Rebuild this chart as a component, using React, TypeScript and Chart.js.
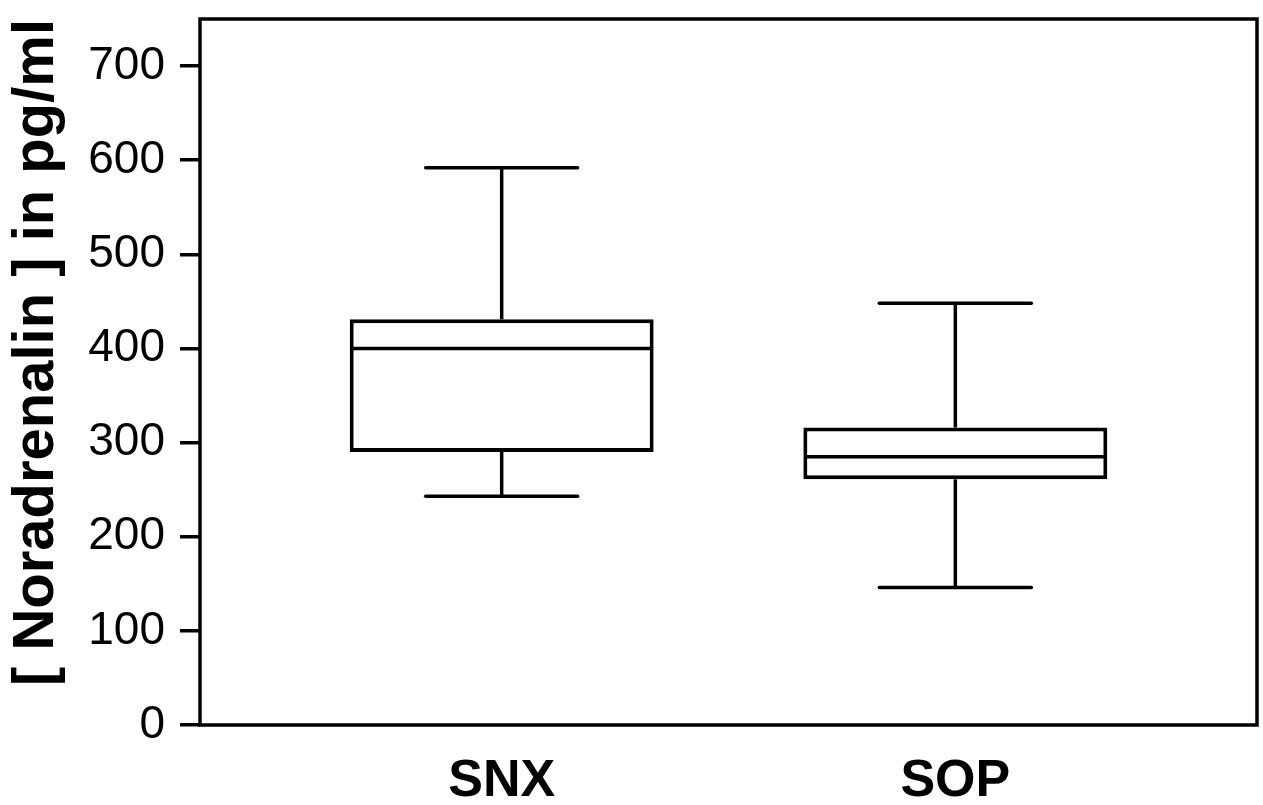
import React, { useEffect, useRef } from "react";
import { Chart, registerables } from "chart.js";

Chart.register(...registerables);

const categories = ["SNX", "SOP"];
const positions = [1, 2];
const whiskerLow = [243, 146];
const quartile1 = [290, 261];
const medians = [400, 285];
const quartile3 = [431, 316];
const whiskerHigh = [592, 448];
const yTickValues = [0, 100, 200, 300, 400, 500, 600, 700];

const BOX_HALF = 0.3325;
const CAP_HALF = 0.1675;
const LINE_W = 3.5;

const boxPlotPlugin = {
  id: "boxPlotExtras",
  afterDatasetsDraw(chart: any) {
    const { ctx, scales, chartArea } = chart;
    const x = scales.x;
    const y = scales.y;
    ctx.save();
    ctx.strokeStyle = "#000";
    ctx.lineWidth = LINE_W;
    ctx.lineCap = "butt";
    positions.forEach((p, i) => {
      const cx = x.getPixelForValue(p);
      ctx.beginPath();
      ctx.moveTo(x.getPixelForValue(p - BOX_HALF), y.getPixelForValue(medians[i]));
      ctx.lineTo(x.getPixelForValue(p + BOX_HALF), y.getPixelForValue(medians[i]));
      ctx.stroke();
      ctx.beginPath();
      ctx.moveTo(cx, y.getPixelForValue(quartile3[i]));
      ctx.lineTo(cx, y.getPixelForValue(whiskerHigh[i]));
      ctx.stroke();
      ctx.beginPath();
      ctx.moveTo(cx, y.getPixelForValue(quartile1[i]));
      ctx.lineTo(cx, y.getPixelForValue(whiskerLow[i]));
      ctx.stroke();
      ctx.lineCap = "round";
      [whiskerHigh[i], whiskerLow[i]].forEach((v) => {
        ctx.beginPath();
        ctx.moveTo(x.getPixelForValue(p - CAP_HALF), y.getPixelForValue(v));
        ctx.lineTo(x.getPixelForValue(p + CAP_HALF), y.getPixelForValue(v));
        ctx.stroke();
      });
      ctx.lineCap = "butt";
    });
    ctx.lineWidth = LINE_W;
    ctx.strokeRect(
      chartArea.left,
      chartArea.top,
      chartArea.right - chartArea.left,
      chartArea.bottom - chartArea.top
    );
    ctx.restore();
  },
};

export default function App() {
  const canvasRef = useRef<HTMLCanvasElement | null>(null);

  useEffect(() => {
    if (!canvasRef.current) return;
    const chart = new Chart(canvasRef.current, {
      type: "bar",
      data: {
        datasets: [
          {
            data: positions.map((p, i) => ({ x: p, y: [quartile1[i], quartile3[i]] })) as any,
            backgroundColor: "#fff",
            borderColor: "#000",
            borderWidth: 4,
            borderSkipped: false,
            categoryPercentage: 1,
            barPercentage: 0.67,
          } as any,
        ],
      },
      options: {
        responsive: false,
        animation: false,
        events: [],
        layout: { padding: { top: 19, right: 6, left: 0, bottom: 0 } },
        plugins: {
          legend: { display: false },
          tooltip: { enabled: false },
        },
        scales: {
          x: {
            type: "linear",
            offset: false,
            min: 0.335,
            max: 2.665,
            afterBuildTicks: (scale: any) => {
              scale.ticks = positions.map((v) => ({ value: v }));
            },
            afterFit: (scale: any) => {
              scale.height = 80;
              scale.paddingLeft = 0;
              scale.paddingRight = 0;
            },
            border: { display: false },
            grid: { display: false, drawTicks: false, offset: false },
            ticks: {
              autoSkip: false,
              maxRotation: 0,
              padding: 25,
              color: "#000",
              font: { family: "'Liberation Sans', Arial, sans-serif", size: 52, weight: "bold" },
              callback: (v: any) => {
                const idx = positions.indexOf(Number(v));
                return idx >= 0 ? categories[idx] : "";
              },
            },
          },
          y: {
            type: "linear",
            min: 0,
            max: 750,
            afterBuildTicks: (scale: any) => {
              scale.ticks = yTickValues.map((v) => ({ value: v }));
            },
            afterFit: (scale: any) => {
              scale.width = 200;
              scale.paddingTop = 0;
              scale.paddingBottom = 0;
            },
            border: { display: false },
            grid: {
              display: true,
              drawOnChartArea: false,
              drawTicks: true,
              tickLength: 20,
              lineWidth: LINE_W,
              color: "#000",
            },
            ticks: {
              padding: 15,
              color: "#000",
              font: { family: "'Liberation Sans', Arial, sans-serif", size: 46 },
            },
            title: {
              display: true,
              text: "[ Noradrenalin ] in pg/ml",
              align: "end",
              color: "#000",
              padding: { top: 2, bottom: 0 },
              font: {
                family: "'Liberation Sans', Arial, sans-serif",
                size: 58,
                weight: "bold",
              },
            },
          },
        },
      },
      plugins: [boxPlotPlugin],
    } as any);
    return () => chart.destroy();
  }, []);

  return (
    <div style={{ position: "absolute", left: 0, top: 0, width: 1263, height: 805, background: "#fff" }}>
      <canvas ref={canvasRef} width={1263} height={805} style={{ display: "block" }} />
    </div>
  );
}
